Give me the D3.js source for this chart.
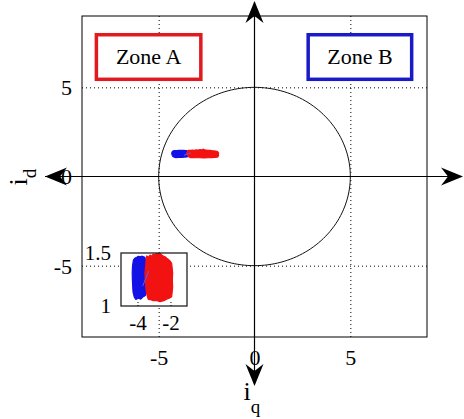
<!DOCTYPE html>
<html>
<head>
<meta charset="utf-8">
<script src="https://cdn.jsdelivr.net/npm/d3@7"></script>
<style>
  html, body { margin: 0; padding: 0; background: #fff; }
  svg { display: block; }
  text { font-family: "Liberation Serif", "Times New Roman", serif; fill: #000; }
</style>
</head>
<body>
<svg id="chart" width="464" height="419"></svg>
<script>
// Current-plane trajectory (iq horizontal, id vertical) with current limit circle
const iqDomain = [-9, 9];
const idDomain = [-9, 9];
const iqTicks = [-5, 0, 5];
const idTicks = [-5, 0, 5];
const gridTicks = [-5, 5];
const limitRadius = 5;

// Zoom window on the operating point
const zoomIqDomain = [-5, -1];
const zoomIdDomain = [1, 1.5];
const zoomIqTicks = [-4, -2];
const zoomIdTicks = [1, 1.5];

// Envelope of the operating-point clouds (iq, id)
const cloudBlue = [
  [-4.25, 1.434], [-4.17, 1.45], [-4.05, 1.459], [-3.95, 1.468], [-3.85, 1.465],
  [-3.72, 1.47], [-3.55, 1.459], [-3.47, 1.4], [-3.44, 1.311], [-3.46, 1.23],
  [-3.44, 1.151], [-3.52, 1.1], [-3.65, 1.088], [-3.8, 1.065], [-3.95, 1.073],
  [-4.1, 1.062], [-4.19, 1.082], [-4.27, 1.13], [-4.29, 1.182], [-4.31, 1.25],
  [-4.32, 1.311], [-4.3, 1.38]
];
const cloudRed = [
  [-3.48, 1.434], [-3.44, 1.472], [-3.34, 1.46], [-3.24, 1.481], [-3.14, 1.47],
  [-3.04, 1.491], [-2.94, 1.482], [-2.84, 1.503], [-2.74, 1.49], [-2.68, 1.535],
  [-2.6, 1.49], [-2.53, 1.481], [-2.43, 1.47], [-2.33, 1.465], [-2.23, 1.45],
  [-2.13, 1.44], [-2.03, 1.425], [-1.93, 1.403], [-1.9, 1.36], [-1.87, 1.311],
  [-1.89, 1.25], [-1.87, 1.182], [-1.9, 1.13], [-1.93, 1.088], [-2.05, 1.075],
  [-2.23, 1.063], [-2.4, 1.05], [-2.64, 1.041], [-2.85, 1.052], [-3.04, 1.05],
  [-3.2, 1.06], [-3.35, 1.063], [-3.42, 1.1], [-3.48, 1.151], [-3.52, 1.23],
  [-3.55, 1.311], [-3.5, 1.38]
];
const transientBlue = [[-3.68, 1.19], [-3.5, 1.26], [-3.32, 1.33]];

const zoneLabels = ["Zone A", "Zone B"];
const zoneIq = [[-8.25, -2.8], [2.8, 8.2]];
const zoneId = [5.45, 7.95];
const zoneColors = ["#e01a1f", "#1a1ac8"];

const colBlue = "#1212e6";
const colRed = "#f21212";

const svg = d3.select("#chart");

const x = d3.scaleLinear().domain(iqDomain).range([82, 427]);
const y = d3.scaleLinear().domain(idDomain).range([337, 16]);
const plotH = y(idDomain[0]) - y(idDomain[1]);
const plotW = x(iqDomain[1]) - x(iqDomain[0]);

// dotted grid
svg.append("g")
  .attr("transform", `translate(0,${y(idDomain[1])})`)
  .call(d3.axisBottom(x).tickValues(gridTicks).tickSize(plotH).tickFormat(""))
  .call(g => g.select(".domain").remove())
  .call(g => g.selectAll(".tick line").attr("stroke", "#000").attr("stroke-dasharray", "1,3"));
svg.append("g")
  .attr("transform", `translate(${x(iqDomain[0])},0)`)
  .call(d3.axisLeft(y).tickValues(gridTicks).tickSize(-plotW).tickFormat(""))
  .call(g => g.select(".domain").remove())
  .call(g => g.selectAll(".tick line").attr("stroke", "#000").attr("stroke-dasharray", "1,3"));

// frame
svg.append("rect")
  .attr("x", x(iqDomain[0])).attr("y", y(idDomain[1]))
  .attr("width", plotW).attr("height", plotH)
  .attr("fill", "none").attr("stroke", "#000").attr("stroke-width", 1);

// tick labels
svg.append("g")
  .attr("transform", `translate(0,${y(idDomain[0]) + 12})`)
  .call(d3.axisBottom(x).tickValues(iqTicks).tickSize(0).tickPadding(0).tickFormat(d => d))
  .call(g => g.select(".domain").remove())
  .call(g => g.selectAll("text").attr("font-size", 22).attr("font-family", "Liberation Serif").attr("dy", "0.71em"));
svg.append("g")
  .attr("transform", `translate(${x(iqDomain[0]) - 10},0)`)
  .call(d3.axisLeft(y).tickValues(idTicks).tickSize(0).tickPadding(0).tickFormat(d => d))
  .call(g => g.select(".domain").remove())
  .call(g => g.selectAll("text").attr("font-size", 22).attr("font-family", "Liberation Serif").attr("dy", "0.34em"));

// current limit circle
const circlePts = d3.range(0, 361, 2).map(a => [limitRadius * Math.cos(a * Math.PI / 180), limitRadius * Math.sin(a * Math.PI / 180)]);
svg.append("path")
  .attr("d", d3.line().x(d => x(d[0])).y(d => y(d[1]))(circlePts))
  .attr("fill", "none").attr("stroke", "#111").attr("stroke-width", 1);

// axes through the origin with arrowheads
const ox = x(0), oy = y(0);
svg.append("line").attr("x1", 45).attr("x2", 456).attr("y1", oy).attr("y2", oy).attr("stroke", "#000").attr("stroke-width", 1.2);
svg.append("line").attr("x1", ox).attr("x2", ox).attr("y1", 2).attr("y2", 384).attr("stroke", "#000").attr("stroke-width", 1.2);
const arrow = (tip, dir) => {
  // dir: unit vector of the arrow direction
  const [dx, dy] = dir, px = -dy, py = dx;
  const L = 22, W = 9, N = 15;
  return `M${tip[0]},${tip[1]}` +
    `L${tip[0] - dx * L + px * W},${tip[1] - dy * L + py * W}` +
    `L${tip[0] - dx * N},${tip[1] - dy * N}` +
    `L${tip[0] - dx * L - px * W},${tip[1] - dy * L - py * W}Z`;
};
[[[463, oy], [1, 0]], [[45, oy], [-1, 0]], [[ox, 1], [0, -1]], [[ox, 386], [0, 1]]].forEach(([t, d]) => {
  svg.append("path").attr("d", arrow(t, d)).attr("fill", "#000");
});

// axis names
const idLabel = svg.append("text")
  .attr("transform", `translate(27,${oy + 9}) rotate(-90)`)
  .attr("font-size", 26);
idLabel.append("tspan").text("i");
idLabel.append("tspan").attr("font-size", 19).attr("dy", 9).text("d");
const iqLabel = svg.append("text")
  .attr("x", ox - 11).attr("y", 400)
  .attr("font-size", 26);
iqLabel.append("tspan").text("i");
iqLabel.append("tspan").attr("font-size", 19).attr("dy", 13).text("q");

// zone boxes
zoneLabels.forEach((lab, i) => {
  const x0 = x(zoneIq[i][0]), x1 = x(zoneIq[i][1]);
  svg.append("rect")
    .attr("x", x0).attr("y", y(zoneId[1]))
    .attr("width", x1 - x0).attr("height", y(zoneId[0]) - y(zoneId[1]))
    .attr("fill", "#fff").attr("stroke", zoneColors[i]).attr("stroke-width", 3.5);
  svg.append("text")
    .attr("x", (x0 + x1) / 2).attr("y", (y(zoneId[0]) + y(zoneId[1])) / 2)
    .attr("dy", "0.33em").attr("text-anchor", "middle")
    .attr("font-size", 22).text(lab);
});

// operating-point clouds
const drawClouds = (g, sx, sy) => {
  const area = d3.line().x(d => sx(d[0])).y(d => sy(d[1])).curve(d3.curveLinearClosed);
  g.append("path").attr("d", area(cloudBlue)).attr("fill", colBlue).attr("stroke", colBlue).attr("stroke-width", 1.2).attr("stroke-linejoin", "round");
  g.append("path").attr("d", area(cloudRed)).attr("fill", colRed).attr("stroke", colRed).attr("stroke-width", 1.2).attr("stroke-linejoin", "round");
  g.append("path").attr("d", d3.line().x(d => sx(d[0])).y(d => sy(d[1]))(transientBlue))
    .attr("fill", "none").attr("stroke", "#6a5ae8").attr("stroke-width", 1);
};
drawClouds(svg.append("g"), x, y);

// zoom window
const xi = d3.scaleLinear().domain(zoomIqDomain).range([121, 187]);
const yi = d3.scaleLinear().domain(zoomIdDomain).range([306, 253]);
const inset = svg.append("g");
const insetBox = sel => sel
  .attr("x", xi.range()[0]).attr("y", yi.range()[1])
  .attr("width", xi.range()[1] - xi.range()[0]).attr("height", yi.range()[0] - yi.range()[1]);
inset.append("rect").call(insetBox).attr("fill", "#fff");
svg.append("clipPath").attr("id", "insetClip").append("rect").call(insetBox);
drawClouds(inset.append("g").attr("clip-path", "url(#insetClip)"), xi, yi);
inset.append("rect").call(insetBox).attr("fill", "none").attr("stroke", "#222").attr("stroke-width", 1.3);
inset.append("g")
  .attr("transform", `translate(0,${yi.range()[0]})`)
  .call(d3.axisBottom(xi).tickValues(zoomIqTicks).tickSize(-4).tickPadding(9).tickFormat(d => d))
  .call(g => g.select(".domain").remove())
  .call(g => g.selectAll(".tick line").attr("stroke", "#000").attr("stroke-dasharray", "1,2"))
  .call(g => g.selectAll("text").attr("font-size", 21).attr("font-family", "Liberation Serif"));
inset.append("g")
  .attr("transform", `translate(${xi.range()[0]},0)`)
  .call(d3.axisLeft(yi).tickValues(zoomIdTicks).tickSize(0).tickPadding(10).tickFormat(d => d))
  .call(g => g.select(".domain").remove())
  .call(g => g.selectAll("text").attr("font-size", 21).attr("font-family", "Liberation Serif"));
</script>
</body>
</html>
